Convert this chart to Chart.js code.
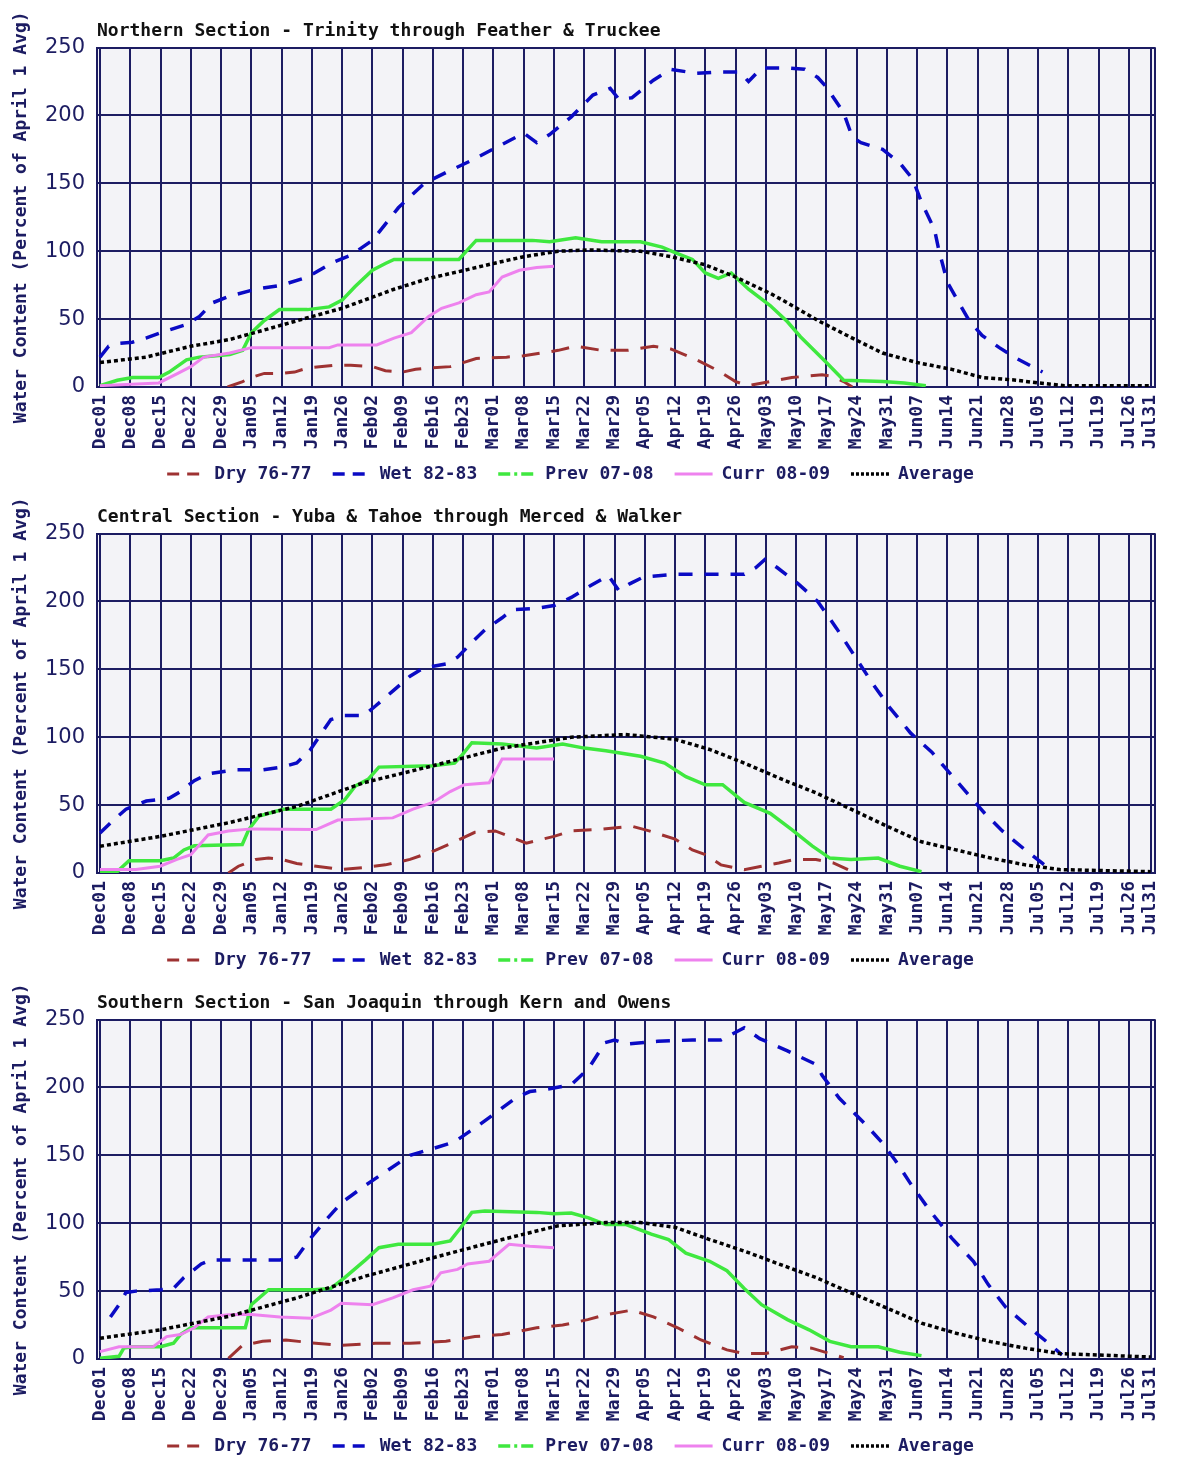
<!DOCTYPE html>
<html lang="en">
  <head>
    <meta charset="UTF-8" />
    <title>Snow water content</title>
    <style>
      body { margin: 0; background: #fff; }
      .panel { width: 1185px; height: 486px; }
      canvas { display: block; }
    </style>
  </head>
  <body>
    <div class="panel"><canvas id="north" width="1185" height="486"></canvas></div>
    <div class="panel"><canvas id="central" width="1185" height="486"></canvas></div>
    <div class="panel"><canvas id="south" width="1185" height="486"></canvas></div>

    <script src="https://cdn.jsdelivr.net/npm/chart.js"></script>
    <script>
      // day index: Dec01 = 0 ... Jul31 = 243 (Feb has 29 days on this axis)
      const tickDays = [0, 7, 14, 21, 28, 35, 42, 49, 56, 63, 70, 77, 84, 91, 98, 105, 112, 119,
        126, 133, 140, 147, 154, 161, 168, 175, 182, 189, 196, 203, 210, 217, 224, 231, 238, 243];
      const tickLabels = ['Dec01', 'Dec08', 'Dec15', 'Dec22', 'Dec29', 'Jan05', 'Jan12', 'Jan19',
        'Jan26', 'Feb02', 'Feb09', 'Feb16', 'Feb23', 'Mar01', 'Mar08', 'Mar15', 'Mar22', 'Mar29',
        'Apr05', 'Apr12', 'Apr19', 'Apr26', 'May03', 'May10', 'May17', 'May24', 'May31', 'Jun07',
        'Jun14', 'Jun21', 'Jun28', 'Jul05', 'Jul12', 'Jul19', 'Jul26', 'Jul31'];
      const seriesNames = ['Dry 76-77', 'Wet 82-83', 'Prev 07-08', 'Curr 08-09', 'Average'];

      // Northern Section
      const northDry = [[29.5,0],[33,4],[35,7],[38,10],[42,10],[45,11],[48,14],[54,16],[58,16],[63,15],[66,12],[70,11],[73,13],[76,14],[81,15],[84,18],[87,21],[94,22],[98,23],[102,25],[106,27],[110,30],[116,27],[122,27],[128,30],[132,28],[135,24],[138,20],[143,12],[147,4],[150,1],[155,4],[160,7],[167,9],[169,8],[172,4],[174,0]];
      const northWet = [[0,22],[2,30],[4,32],[7.5,33],[10.6,36],[14,40],[17,43],[20,46],[23,52],[26,62],[30,67],[36,72],[42,75],[48,81],[54,92],[58,97],[63,108],[66,120],[69,132],[71,138],[75,150],[80,158],[86,167],[92,177],[98,187],[101,180],[104,186],[109,199],[114,215],[118,220],[120,212],[123,213],[128,226],[132,234],[138,231],[143,232],[148,232],[150,225],[153,235],[159,235],[163,234],[166,228],[168,221],[172,202],[174,184],[176,180],[181,175],[185,165],[188,153],[190,136],[193,116],[194,101],[196,77],[201,49],[204,38],[208,29],[212,21],[215,16],[218,11]];
      const northPrev = [[0,1],[4,5],[7.5,7],[13.6,7],[16,11],[20,20],[23,22],[30,24],[33,27],[35,40],[38,49],[41.5,57],[48,57],[53,59],[56,64],[59,74],[63,86],[66,91],[68,94],[83,94],[85,101],[87,108],[100,108],[104,107],[110,110],[116,107],[125,107],[130,103],[133,99],[137,94],[140,84],[143,80],[146,84],[150,72],[155,60],[159,48],[162,37],[168,18],[172,5],[181,4],[186,3],[191,1]];
      const northCurr = [[0,1],[13.6,3],[18,10],[21,15],[24,22],[30,25],[35,29],[53,29],[55,31],[64,31],[68,36],[72,40],[76,52],[79,58],[83,62],[87,68],[90,70],[93,81],[97,86],[101,88],[105,89]];
      const northAvg = [[0,18],[10.6,22],[21,30],[30,35],[38,42],[48,51],[56,58],[68,72],[76,80],[83,85],[91,91],[98,96],[106,100],[113,101],[125,100],[132,96],[140,90],[147,81],[155,69],[159,62],[166,49],[174,36],[181,25],[189,18],[197,13],[204,7],[212,5],[217,3],[223,1],[243,1]];

      // Central Section
      const centralDry = [[29.7,0],[32,5],[36,10],[39,11],[42,10],[45.5,7],[50,5],[55.8,2.5],[61,4],[66,6],[71.7,10],[77,16],[82,23],[86.7,30],[91.4,31],[95.4,26],[98.6,22],[105,27],[109,31],[115,32],[123,34.5],[127,31],[133,25],[137,17],[140,13.5],[143.6,6],[149,2.5],[153,5],[157,7.4],[160.7,10],[165.6,10],[169.6,7.4],[173,2.5]];
      const centralWet = [[0,29.5],[2.8,38],[6,47],[10.7,53],[16,55],[18.6,60],[21.8,68],[25,73],[31,76],[37.6,76],[42,78],[45.5,81],[48.7,91],[51,102],[53.4,113],[56.6,116],[61,116],[63.7,123],[67.7,134],[71.7,145],[74.8,151],[80,154],[82.7,159],[86.7,172],[89,179],[93,188],[95.4,194],[101,195],[105,197],[109,203],[113.6,212],[117.6,219],[120,208],[122.5,213],[125.7,218],[133,220],[141,220],[149,220],[151.7,225],[153.8,231],[156.6,225],[161.5,213],[166,200],[170.4,180],[174.5,160],[178.6,140],[182.6,122],[187.5,103],[192.4,89],[195.6,77],[200.5,59],[204.6,44],[208.7,31],[214,17],[218,7],[220,2]];
      const centralPrev = [[0,0.5],[4,1],[5,4],[6.7,9],[13.9,9],[17,11],[19.4,17],[21.8,20],[32.9,21],[34.4,32],[36.8,42],[42.4,47],[53.4,47],[56.6,54],[59,64],[62,69],[64.5,78],[77,79],[82,81],[83.5,86],[86,96],[93,95],[101,92],[107,95],[112,92],[117,90],[125,86],[130.6,81],[135.5,71],[140,65],[144,65],[149,52],[155,44],[160,32],[164.7,20],[168.8,11],[173.7,10],[180,11],[185,5],[190,1]];
      const centralCurr = [[0,2.5],[8.3,2.5],[13.9,5],[17.8,10],[21,13.5],[25,28],[29.7,31],[35,32.5],[50,32],[55,39],[67.7,40.6],[72.4,47],[77,52],[81,60],[84.3,65],[90,66.5],[93,84],[105,84]];
      const centralAvg = [[0,19.7],[14,27],[29.7,37],[45.5,49],[61,66.5],[77,79],[93,92],[109,100],[121.5,102],[125,101],[133,98.5],[141,91],[149,81],[157,70],[165.6,59],[173.7,47],[182,34.5],[190,23],[198,17],[206,11],[214,6],[222,2.5],[243,1]];

      // Southern Section
      const southDry = [[29.7,0.5],[32.9,10],[37.6,13],[43,14],[48.7,12],[55.8,10],[63.7,11.6],[71.7,11.6],[80,13],[86.7,16.5],[93,18],[101,23],[107,25],[112.8,29],[117,32.6],[123,36],[128,31],[133.6,23],[139,14],[145,6.7],[149,4],[154,4],[160,9],[164.6,8],[168.8,4],[172,1]];
      const southWet = [[2.4,31],[4.4,40],[6,49],[8.3,50],[14,51],[17,52],[19.4,60],[23.4,70],[25.7,73],[41.6,73],[45.5,75],[48.7,89],[52.7,104],[55.8,115],[61.4,128],[67,140],[71.7,150],[78,156],[82,160],[87.5,172],[91.4,181],[96,192],[99.4,197],[104,199],[109,202],[113,214],[116.8,233],[119,235],[121.7,232],[129,234],[137,235],[143.6,235],[146,239],[149,244],[152.6,236],[159,227],[165.6,217],[167,209],[171,192],[177,173],[181,159],[184,146],[187.5,129],[192,109],[197,89],[202,72],[205.4,55],[209.5,38],[215,23],[220,10],[222.5,3]];
      const southPrev = [[0,0.5],[4.4,2],[5.5,8],[7.5,9],[14,9],[17,11.6],[18.6,18],[21,23],[33.6,23],[35,40],[39,51],[49.5,51],[53.4,52],[56.6,60],[61.4,73],[64.5,82],[69,84.5],[77,84.5],[81,87],[83.5,97],[86,108],[89,109],[101,108],[105,107],[109,107.5],[113,104],[117,99],[121.7,99],[127.5,92],[131.5,88],[135.5,78],[141,72],[145,65],[149,52],[153,40],[159,29],[164,21.5],[168.8,13],[173.7,9],[180,9],[185,5],[190,2.5]];
      const southCurr = [[0,5.4],[4.4,9],[12.3,9],[15.4,16.5],[18.6,18],[21.8,23],[25,31],[29.7,32.6],[34.4,33],[41.6,31],[48.7,30],[53.4,36],[55.8,41],[63,40],[67.7,45],[72.4,51],[76.4,53.6],[78.8,63.5],[82.7,66],[85,70],[90,72],[94.6,84.5],[99.4,83],[105,82]];
      const southAvg = [[0,15.3],[14,21.5],[29.7,31.4],[45.5,45],[61.4,61],[77,74.6],[93,88],[105.7,98],[117,100.5],[125,100.5],[133,97],[141,88],[149,79.5],[157,70],[165.6,60],[173.7,48.7],[182,37.5],[190,26.4],[198,19],[206,12.8],[214,8],[222,4],[241,1.7],[243,1.5]];

      const NAVY = '#1c1c62';
      const MONO = "'DejaVu Sans Mono', monospace";
      const xMin = -0.7, xMax = 244.1;

      const seriesStyle = [
        { color: '#9e3232', dash: [18, 12], width: 3, order: 4, legendDash: [12, 8] },
        { color: '#0a0ac4', dash: [14, 12], width: 3.5, order: 3, legendDash: [12, 8] },
        { color: '#3fe83f', dash: [], width: 3.5, order: 2, legendDash: [12, 4, 3, 4] },
        { color: '#ee82ee', dash: [], width: 3, order: 1, legendDash: [] },
        { color: '#000000', dash: [4, 3], width: 3.5, order: 0, legendDash: [3, 2] }
      ];

      const toPoints = arr => arr.map(p => ({ x: p[0], y: p[1] }));

      const panelLook = {
        id: 'panelLook',
        beforeDraw(chart) {
          const a = chart.chartArea;
          const ctx = chart.ctx;
          ctx.save();
          ctx.fillStyle = '#f3f3f7';
          ctx.fillRect(a.left, a.top, a.right - a.left, a.bottom - a.top);
          ctx.restore();
        },
        afterLayout(chart) {
          // legend sits a bit left of centre in the original; give it room down to the canvas edge
          const lg = chart.legend;
          lg.left -= 18; lg.right -= 18;
          lg.top -= 7;
          lg.bottom = chart.height;
          lg.height = lg.bottom - lg.top;
        }
      };

      function drawPanel(id, title, series) {
        const datasets = series.map((s, i) => ({
          label: seriesNames[i],
          data: toPoints(s),
          borderColor: seriesStyle[i].color,
          backgroundColor: seriesStyle[i].color,
          borderDash: seriesStyle[i].dash,
          borderWidth: seriesStyle[i].width,
          order: seriesStyle[i].order,
          pointRadius: 0,
          tension: 0,
          fill: false
        }));

        new Chart(document.getElementById(id), {
          type: 'line',
          data: { datasets },
          plugins: [panelLook],
          options: {
            responsive: false,
            animation: false,
            events: [],
            layout: { padding: { left: 0, right: 8, top: 0, bottom: 0 } },
            scales: {
              x: {
                type: 'linear',
                min: xMin,
                max: xMax,
                afterBuildTicks: scale => {
                  scale.ticks = [xMin].concat(tickDays, [xMax]).map(v => ({ value: v }));
                },
                afterFit: scale => { scale.height = 64; },
                grid: { color: NAVY, lineWidth: 2, drawTicks: false },
                border: { display: true, color: NAVY, width: 2 },
                ticks: {
                  autoSkip: false,
                  minRotation: 90,
                  maxRotation: 90,
                  padding: 8,
                  color: NAVY,
                  font: { family: MONO, size: 18, weight: 'bold' },
                  callback: value => {
                    const i = tickDays.indexOf(value);
                    return i >= 0 ? tickLabels[i] : '';
                  }
                }
              },
              y: {
                min: 0,
                max: 250,
                afterFit: scale => { scale.width = 97; },
                grid: { color: NAVY, lineWidth: 2, drawTicks: false },
                border: { display: true, color: NAVY, width: 2 },
                ticks: {
                  stepSize: 50,
                  padding: 12,
                  color: NAVY,
                  font: { family: "'DejaVu Sans', sans-serif", size: 21 }
                },
                title: {
                  display: true,
                  text: 'Water Content (Percent of April 1 Avg)',
                  color: NAVY,
                  padding: { top: 11, bottom: 0 },
                  font: { family: MONO, size: 18, weight: 'bold' }
                }
              }
            },
            plugins: {
              tooltip: { enabled: false },
              title: {
                display: true,
                text: title,
                align: 'start',
                fullSize: false,
                color: '#111',
                padding: { top: 21, bottom: 5 },
                font: { family: MONO, size: 18, weight: 'bold' }
              },
              legend: {
                position: 'bottom',
                maxHeight: 35,
                labels: {
                  usePointStyle: true,
                  pointStyle: 'line',
                  pointStyleWidth: 38,
                  padding: 21,
                  color: NAVY,
                  font: { family: MONO, size: 18, weight: 'bold' },
                  sort: (a, b) => a.datasetIndex - b.datasetIndex,
                  generateLabels: chart => {
                    const items = Chart.defaults.plugins.legend.labels.generateLabels(chart);
                    items.forEach(it => { it.lineDash = seriesStyle[it.datasetIndex].legendDash; });
                    return items;
                  }
                }
              }
            }
          }
        });
      }

      drawPanel('north', 'Northern Section - Trinity through Feather & Truckee',
        [northDry, northWet, northPrev, northCurr, northAvg]);
      drawPanel('central', 'Central Section - Yuba & Tahoe through Merced & Walker',
        [centralDry, centralWet, centralPrev, centralCurr, centralAvg]);
      drawPanel('south', 'Southern Section - San Joaquin through Kern and Owens',
        [southDry, southWet, southPrev, southCurr, southAvg]);
    </script>
  </body>
</html>
